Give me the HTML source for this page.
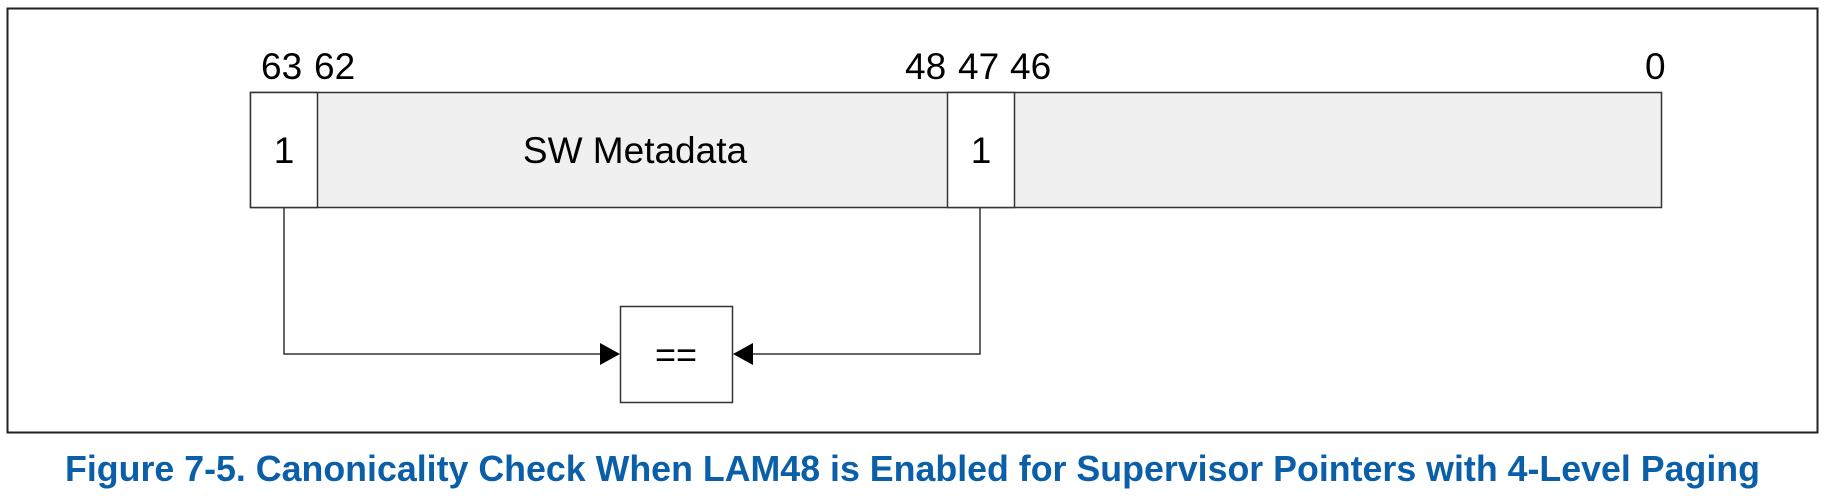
<!DOCTYPE html>
<html><head><meta charset="utf-8"><style>html,body{margin:0;padding:0;background:#fff}svg{display:block}</style></head>
<body>
<svg width="1830" height="504" viewBox="0 0 1830 504" xmlns="http://www.w3.org/2000/svg" font-family="Liberation Sans, Arial, sans-serif">
<rect x="7.5" y="8.5" width="1810" height="424" fill="#fff" stroke="#222" stroke-width="2"/>
<rect x="250.5" y="92.5" width="1411" height="115" fill="#f0f0f0" stroke="#333" stroke-width="1.5"/>
<rect x="250.5" y="92.5" width="67" height="115" fill="#fff" stroke="#333" stroke-width="1.5"/>
<rect x="947.5" y="92.5" width="67" height="115" fill="#fff" stroke="#333" stroke-width="1.5"/>
<g font-size="37" fill="#000">
<text x="261" y="79">63</text>
<text x="314" y="79">62</text>
<text x="905" y="79">48</text>
<text x="958" y="79">47</text>
<text x="1010" y="79">46</text>
<text x="1645" y="79">0</text>
<text x="284" y="163" text-anchor="middle">1</text>
<text x="981" y="163" text-anchor="middle">1</text>
<text x="635" y="163" text-anchor="middle">SW Metadata</text>
</g>
<rect x="620.5" y="306.5" width="112" height="96" fill="#fff" stroke="#333" stroke-width="1.5"/>
<text x="676" y="367" font-size="36" text-anchor="middle">==</text>
<polyline points="284,207 284,354 602,354" fill="none" stroke="#333" stroke-width="1.5"/>
<polyline points="980,207 980,354 750,354" fill="none" stroke="#333" stroke-width="1.5"/>
<polygon points="620,354 600,343 600,365" fill="#000"/>
<polygon points="733,354 753,343 753,365" fill="#000"/>
<text x="65" y="481" font-size="36" font-weight="bold" fill="#0b5fa8" textLength="1695" lengthAdjust="spacingAndGlyphs">Figure 7-5.  Canonicality Check When LAM48 is Enabled for Supervisor Pointers with 4-Level Paging</text>
</svg>
</body></html>
